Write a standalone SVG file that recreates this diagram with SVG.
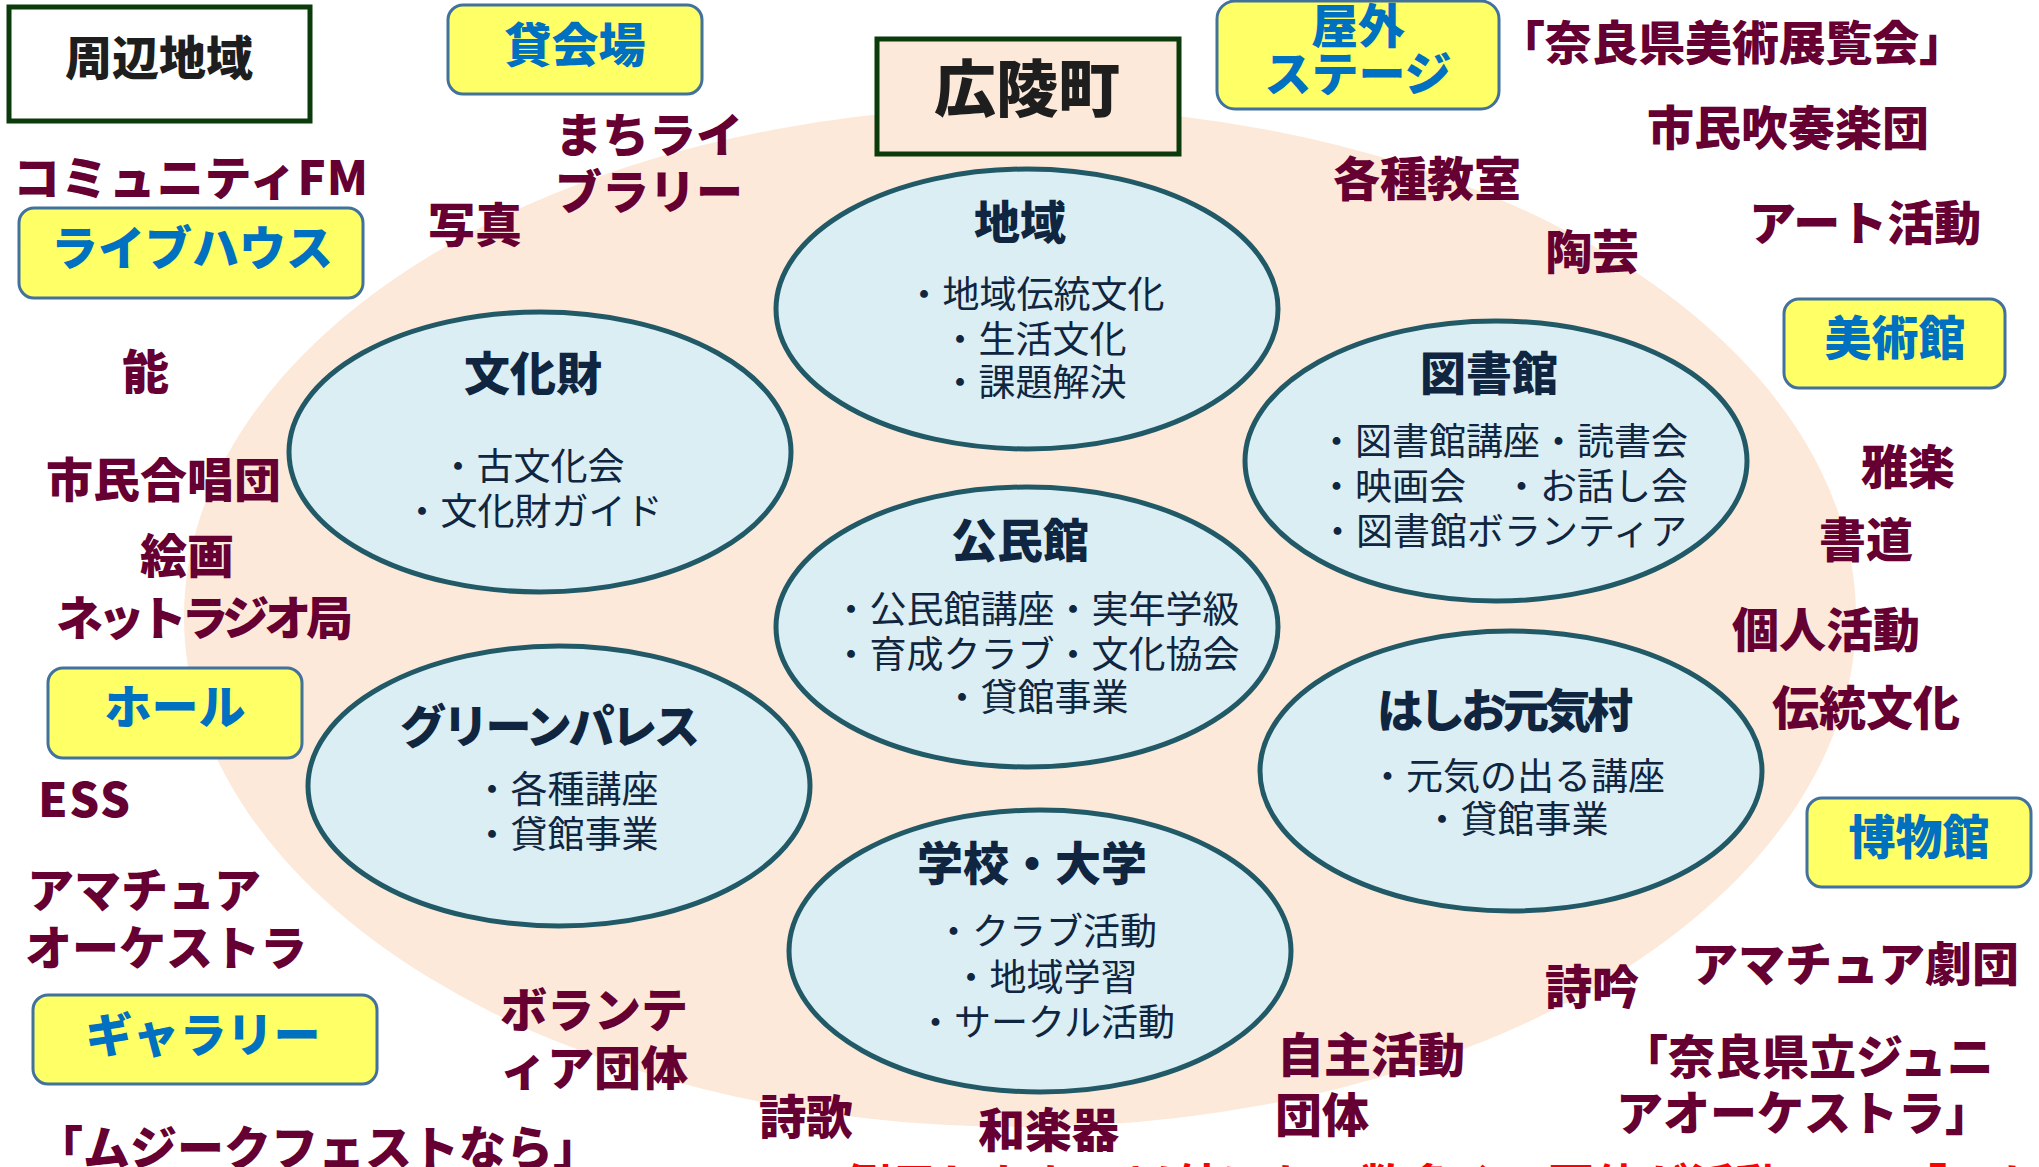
<svg xmlns="http://www.w3.org/2000/svg" width="2039" height="1167" viewBox="0 0 2039 1167">
<style>
text{font-family:"Noto Sans CJK JP","Noto Sans",sans-serif}
.lbl{font-weight:900;font-size:47px;fill:#660033}
.blue{font-weight:900;font-size:47px;fill:#0070C0;text-anchor:middle}
.ybox{fill:#FFFF66;stroke:#41719C;stroke-width:3}
.ell{fill:#DAEEF3;stroke:#215967;stroke-width:5}
.ttl{font-weight:900;font-size:46px;fill:#10253F;text-anchor:middle}
.body{font-size:37px;fill:#10253F;text-anchor:middle}
.dark{fill:#FFFFFF;stroke:#0B3A0B;stroke-width:5}
</style>
<rect width="2039" height="1167" fill="#FFFFFF"/>
<g id="area">
<ellipse cx="1020" cy="617" rx="836" ry="510" fill="#FDE9D9"/>
</g>
<g id="surrounding">
<rect class="dark" x="9" y="7" width="301" height="114"/>
<text x="159" y="75" text-anchor="middle" font-weight="900" font-size="47" fill="#1E1E1E">周辺地域</text>
</g>
<g id="town">
<rect class="dark" x="877" y="39" width="302" height="115" style="fill:#FDE9D9"/>
<text x="1027" y="112" text-anchor="middle" font-weight="900" font-size="62" fill="#1E1E1E">広陵町</text>
</g>
<g id="venues">
<g id="v-kashikaijo"><rect class="ybox" x="448" y="5" width="254" height="89" rx="15"/><text class="blue" x="575" y="62">貸会場</text></g>
<g id="v-livehouse"><rect class="ybox" x="19" y="208" width="344" height="90" rx="15"/><text class="blue" x="192" y="265">ライブハウス</text></g>
<g id="v-stage"><rect class="ybox" x="1217" y="1" width="282" height="108" rx="18"/><text class="blue" x="1358" y="43">屋外</text><text class="blue" x="1358" y="91">ステージ</text></g>
<g id="v-museum-art"><rect class="ybox" x="1784" y="299" width="221" height="89" rx="15"/><text class="blue" x="1895" y="355">美術館</text></g>
<g id="v-hall"><rect class="ybox" x="48" y="668" width="254" height="90" rx="15"/><text class="blue" x="175" y="724">ホール</text></g>
<g id="v-gallery"><rect class="ybox" x="33" y="995" width="344" height="89" rx="15"/><text class="blue" x="203" y="1052">ギャラリー</text></g>
<g id="v-museum"><rect class="ybox" x="1807" y="798" width="224" height="89" rx="15"/><text class="blue" x="1919" y="854">博物館</text></g>
</g>
<g id="labels">
<text class="lbl" x="13" y="195" textLength="355">コミュニティFM</text>
<text class="lbl" x="555" y="152">まちライ</text>
<text class="lbl" x="555" y="209">ブラリー</text>
<text class="lbl" x="428" y="242">写真</text>
<text class="lbl" x="122" y="389">能</text>
<text class="lbl" x="46" y="497">市民合唱団</text>
<text class="lbl" x="140" y="573">絵画</text>
<text class="lbl" x="56" y="635" textLength="297">ネットラジオ局</text>
<text class="lbl" x="38" y="817" font-size="49" textLength="92">ESS</text>
<text class="lbl" x="27" y="907">アマチュア</text>
<text class="lbl" x="25" y="965">オーケストラ</text>
<text class="lbl" x="500" y="1027">ボランテ</text>
<text class="lbl" x="500" y="1085">ィア団体</text>
<text class="lbl" x="36" y="1165" font-size="50" textLength="564">「ムジークフェストなら」</text>
<text class="lbl" x="1498" y="60" textLength="468">「奈良県美術展覧会」</text>
<text class="lbl" x="1647" y="145">市民吹奏楽団</text>
<text class="lbl" x="1333" y="196">各種教室</text>
<text class="lbl" x="1545" y="269">陶芸</text>
<text class="lbl" x="1749" y="240">アート活動</text>
<text class="lbl" x="1861" y="484">雅楽</text>
<text class="lbl" x="1819" y="557">書道</text>
<text class="lbl" x="1732" y="647">個人活動</text>
<text class="lbl" x="1772" y="725">伝統文化</text>
<text class="lbl" x="1691" y="981">アマチュア劇団</text>
<text class="lbl" x="1545" y="1004">詩吟</text>
<text class="lbl" x="1621" y="1074">「奈良県立ジュニ</text>
<text class="lbl" x="1616" y="1130">アオーケストラ」</text>
<text class="lbl" x="1277" y="1072">自主活動</text>
<text class="lbl" x="1275" y="1132">団体</text>
<text class="lbl" x="978" y="1147">和楽器</text>
<text class="lbl" x="759" y="1134">詩歌</text>
<text x="750" y="1203" font-weight="700" font-size="47" fill="#FF0000">※　例示したもの以外にも、数多くの団体が活動　→　「いかるが文化祭」</text>
</g>
<g id="n-chiiki">
<ellipse class="ell" cx="1027" cy="309" rx="251" ry="140"/>
<text class="ttl" x="1020" y="239">地域</text>
<text class="body" x="1035" y="308">・地域伝統文化</text>
<text class="body" x="1034" y="353">・生活文化</text>
<text class="body" x="1034" y="396">・課題解決</text>
</g>
<g id="n-bunkazai">
<ellipse class="ell" cx="540" cy="452" rx="251" ry="140"/>
<text class="ttl" x="533" y="390">文化財</text>
<text class="body" x="532" y="480">・古文化会</text>
<text class="body" x="533" y="525">・文化財ガイド</text>
</g>
<g id="n-toshokan">
<ellipse class="ell" cx="1496" cy="461" rx="251" ry="140"/>
<text class="ttl" x="1489" y="390">図書館</text>
<text class="body" x="1503" y="455">・図書館講座・読書会</text>
<text class="body" x="1503" y="500">・映画会　・お話し会</text>
<text class="body" x="1503" y="545">・図書館ボランティア</text>
</g>
<g id="n-kominkan">
<ellipse class="ell" cx="1027" cy="627" rx="251" ry="140"/>
<text class="ttl" x="1020" y="557">公民館</text>
<text class="body" x="1036" y="623">・公民館講座・実年学級</text>
<text class="body" x="1036" y="668">・育成クラブ・文化協会</text>
<text class="body" x="1036" y="711">・貸館事業</text>
</g>
<g id="n-hashio">
<ellipse class="ell" cx="1511" cy="771" rx="251" ry="140"/>
<text class="ttl" x="1505" y="727" textLength="256">はしお元気村</text>
<text class="body" x="1517" y="790">・元気の出る講座</text>
<text class="body" x="1516" y="833">・貸館事業</text>
</g>
<g id="n-greenpalace">
<ellipse class="ell" cx="559" cy="786" rx="251" ry="140"/>
<text class="ttl" x="550" y="743" textLength="300">グリーンパレス</text>
<text class="body" x="566" y="803">・各種講座</text>
<text class="body" x="566" y="848">・貸館事業</text>
</g>
<g id="n-school">
<ellipse class="ell" cx="1040" cy="951" rx="251" ry="141"/>
<text class="ttl" x="1032" y="880">学校・大学</text>
<text class="body" x="1046" y="945">・クラブ活動</text>
<text class="body" x="1045" y="991">・地域学習</text>
<text class="body" x="1046" y="1036">・サークル活動</text>
</g>
</svg>
